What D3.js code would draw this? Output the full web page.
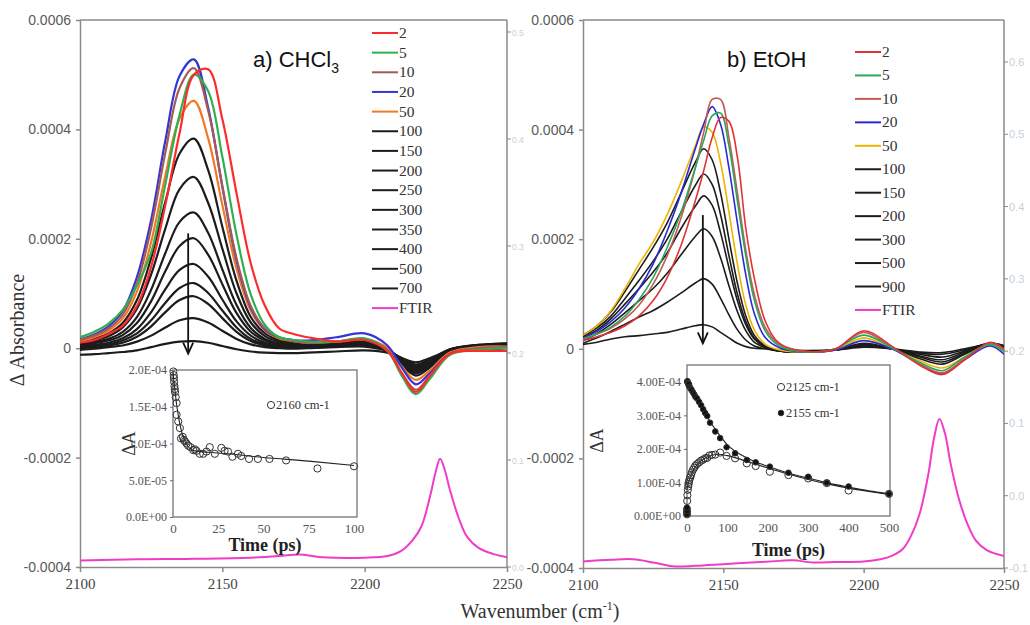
<!DOCTYPE html>
<html><head><meta charset="utf-8">
<script src="https://cdn.jsdelivr.net/npm/d3@7"></script>
<style>
html,body{margin:0;padding:0;background:#fff;overflow:hidden}
svg{display:block}
</style></head><body>
<svg id="chart" width="1030" height="625"></svg>
<script>
// ---------- Data (ΔA in units of 1e-4) ----------
const wnCHCl3 = [2100,2105,2110,2115,2120,2125,2130,2135,2140,2145,2150,2155,2160,2165,2170,2175,2180,2190,2200,2208,2213,2218,2223,2230,2240,2250];
const delaysCHCl3 = ["2","5","10","20","50","100","150","200","250","300","350","400","500","700"];
const spectraCHCl3 = [
  [0.10,0.15,0.26,0.41,0.77,1.49,2.62,3.94,5.00,5.10,4.19,2.83,1.55,0.77,0.36,0.26,0.20,0.12,0.15,-0.05,-0.45,-0.80,-0.50,-0.10,-0.05,-0.05],
  [0.20,0.30,0.45,0.70,1.15,1.75,3.00,4.27,5.00,4.70,3.50,2.07,0.98,0.42,0.20,0.15,0.12,0.12,0.18,-0.05,-0.50,-0.84,-0.55,-0.12,-0.03,0.00],
  [0.15,0.23,0.36,0.61,1.18,2.20,3.58,4.76,5.12,4.35,2.97,1.64,0.77,0.36,0.20,0.13,0.10,0.12,0.16,-0.03,-0.45,-0.76,-0.50,-0.10,0.00,0.02],
  [0.16,0.25,0.40,0.68,1.30,2.35,3.80,4.98,5.28,4.40,2.95,1.60,0.74,0.34,0.20,0.15,0.14,0.20,0.27,0.05,-0.35,-0.66,-0.45,-0.10,-0.02,-0.05],
  [0.12,0.20,0.32,0.54,1.04,1.94,3.16,4.20,4.52,3.84,2.62,1.45,0.68,0.32,0.18,0.13,0.10,0.12,0.17,0.00,-0.33,-0.58,-0.40,-0.08,0.02,0.03],
  [0.10,0.17,0.27,0.46,0.88,1.65,2.68,3.56,3.83,3.26,2.22,1.23,0.57,0.27,0.15,0.10,0.08,0.10,0.12,0.00,-0.30,-0.50,-0.35,-0.05,0.03,0.05],
  [0.08,0.14,0.22,0.38,0.72,1.35,2.19,2.91,3.13,2.66,1.82,1.00,0.47,0.22,0.12,0.08,0.06,0.08,0.10,0.00,-0.27,-0.46,-0.32,-0.04,0.04,0.06],
  [0.06,0.11,0.17,0.30,0.57,1.07,1.74,2.31,2.48,2.11,1.44,0.79,0.37,0.17,0.09,0.06,0.05,0.07,0.08,-0.02,-0.25,-0.43,-0.30,-0.04,0.04,0.06],
  [0.05,0.09,0.14,0.24,0.46,0.86,1.41,1.87,2.01,1.71,1.17,0.64,0.30,0.14,0.07,0.05,0.04,0.06,0.07,-0.02,-0.23,-0.40,-0.28,-0.03,0.05,0.07],
  [0.03,0.06,0.10,0.18,0.35,0.66,1.08,1.43,1.54,1.31,0.89,0.49,0.23,0.10,0.05,0.03,0.03,0.05,0.06,-0.03,-0.22,-0.37,-0.26,-0.03,0.05,0.08],
  [0.02,0.04,0.07,0.14,0.27,0.51,0.83,1.10,1.19,1.01,0.69,0.38,0.17,0.07,0.03,0.02,0.02,0.04,0.05,-0.03,-0.20,-0.34,-0.24,-0.03,0.06,0.08],
  [0.00,0.02,0.05,0.10,0.21,0.40,0.66,0.88,0.95,0.81,0.55,0.30,0.13,0.05,0.02,0.01,0.01,0.03,0.04,-0.04,-0.19,-0.32,-0.22,-0.02,0.06,0.09],
  [-0.03,-0.01,0.02,0.05,0.12,0.23,0.38,0.51,0.55,0.47,0.32,0.17,0.07,0.02,0.00,-0.01,0.00,0.02,0.03,-0.05,-0.18,-0.30,-0.20,-0.02,0.05,0.08],
  [-0.12,-0.11,-0.09,-0.07,-0.04,0.02,0.08,0.12,0.13,0.10,0.04,-0.02,-0.06,-0.08,-0.09,-0.09,-0.08,-0.06,-0.04,-0.08,-0.18,-0.26,-0.18,-0.05,0.02,0.05]
];
const ftirWnCHCl3 = [2100,2120,2140,2160,2170,2177,2185,2200,2208,2213,2217,2220,2223,2225,2226.5,2228,2230,2233,2236,2240,2245,2250];
const ftirCHCl3 = [-3.88,-3.86,-3.85,-3.83,-3.80,-3.77,-3.82,-3.83,-3.80,-3.70,-3.50,-3.25,-2.70,-2.25,-2.02,-2.20,-2.60,-3.10,-3.45,-3.65,-3.76,-3.82];

const wnEtOH = [2100,2105,2110,2115,2120,2125,2130,2135,2140,2143,2146,2149,2152,2155,2158,2161,2165,2170,2180,2190,2200,2210,2220,2228,2236,2245,2250];
const delaysEtOH = ["2","5","10","20","50","100","150","200","300","500","900"];
const spectraEtOH = [
  [0.15,0.22,0.30,0.42,0.60,0.88,1.30,1.90,2.70,3.25,3.85,4.22,4.15,3.50,2.20,1.30,0.50,0.10,-0.05,0.00,0.33,0.05,-0.30,-0.47,-0.20,0.12,0.00],
  [0.18,0.27,0.40,0.60,0.90,1.30,1.85,2.50,3.30,3.80,4.25,4.30,3.70,2.70,1.70,0.90,0.32,0.05,-0.06,0.00,0.25,0.02,-0.25,-0.40,-0.15,0.08,-0.05],
  [0.18,0.27,0.38,0.55,0.80,1.18,1.70,2.40,3.30,3.95,4.55,4.55,3.85,2.85,1.80,1.00,0.38,0.08,-0.05,0.00,0.30,0.03,-0.28,-0.44,-0.18,0.10,-0.02],
  [0.20,0.32,0.50,0.75,1.10,1.55,2.15,2.85,3.65,4.10,4.42,4.10,3.30,2.30,1.35,0.65,0.20,0.02,-0.06,-0.02,0.15,0.00,-0.28,-0.45,-0.20,0.05,-0.10],
  [0.25,0.42,0.70,1.10,1.55,1.95,2.45,3.05,3.70,4.05,3.95,3.40,2.50,1.55,0.80,0.35,0.08,-0.02,-0.06,-0.02,0.20,0.00,-0.22,-0.35,-0.15,0.08,-0.05],
  [0.25,0.42,0.68,1.05,1.45,1.85,2.30,2.85,3.40,3.65,3.45,2.85,2.00,1.20,0.60,0.25,0.05,-0.04,-0.06,-0.02,0.10,0.00,-0.18,-0.28,-0.10,0.10,0.02],
  [0.22,0.38,0.60,0.92,1.25,1.60,2.00,2.50,2.98,3.19,3.00,2.45,1.70,1.00,0.50,0.20,0.04,-0.04,-0.06,-0.02,0.08,0.00,-0.15,-0.24,-0.08,0.10,0.03],
  [0.20,0.34,0.55,0.82,1.10,1.40,1.75,2.20,2.60,2.79,2.62,2.12,1.48,0.88,0.44,0.18,0.03,-0.04,-0.06,-0.02,0.07,0.00,-0.13,-0.20,-0.06,0.10,0.04],
  [0.15,0.28,0.45,0.66,0.88,1.10,1.38,1.72,2.05,2.19,2.05,1.66,1.15,0.68,0.33,0.12,0.02,-0.04,-0.06,-0.02,0.06,0.00,-0.10,-0.15,-0.04,0.10,0.05],
  [0.10,0.20,0.32,0.45,0.58,0.70,0.85,1.02,1.20,1.28,1.18,0.92,0.62,0.35,0.16,0.05,0.00,-0.04,-0.05,-0.02,0.05,0.00,-0.08,-0.10,-0.02,0.10,0.06],
  [0.08,0.12,0.18,0.22,0.24,0.27,0.30,0.36,0.42,0.44,0.40,0.30,0.20,0.10,0.04,0.01,0.00,-0.02,-0.03,-0.02,0.03,0.00,-0.06,-0.07,0.00,0.08,0.05]
];
const ftirWnEtOH = [2100,2110,2118,2125,2132,2140,2150,2160,2170,2175,2182,2190,2200,2206,2210,2214,2217,2220,2223,2225,2227,2229,2231,2234,2237,2240,2244,2250];
const ftirEtOH = [-3.88,-3.85,-3.84,-3.90,-3.97,-3.96,-3.93,-3.90,-3.87,-3.86,-3.90,-3.89,-3.88,-3.84,-3.78,-3.65,-3.40,-3.00,-2.30,-1.65,-1.28,-1.55,-2.10,-2.75,-3.20,-3.50,-3.68,-3.78];

// kinetics: time (ps) and ΔA (1e-4)
const tCHCl3_2160 = [0.2,0.4,0.5,0.6,0.8,1.0,1.1,1.5,2.0,2.0,2.9,3.8,4.4,5.4,6.0,6.6,7.5,8.4,9.7,11.2,12.1,13.0,14.8,16.7,18.5,20.3,23.1,26.7,28.5,30.4,32.8,35.9,37.7,42.0,46.9,53.3,62.5,79.8,100];
const aCHCl3_2160 = [1.98,1.93,1.89,1.84,1.78,1.74,1.70,1.63,1.55,1.39,1.30,1.21,1.07,1.09,1.05,1.03,1.00,0.97,0.95,0.91,0.92,0.90,0.86,0.86,0.89,0.95,0.86,0.94,0.90,0.89,0.82,0.86,0.83,0.79,0.79,0.79,0.77,0.66,0.69];
const tFitCHCl3 = [0,1,2,3,4,5,6,7,8,10,12,15,20,30,50,75,100];
const aFitCHCl3 = [1.97,1.74,1.53,1.37,1.24,1.14,1.07,1.01,0.97,0.92,0.90,0.89,0.88,0.86,0.81,0.76,0.70];

const tEtOH_2125 = [0,0,0,0.5,1,2,3,4,5,6,8,10,12,15,18,21,25,30,35,40,45,50,55,62,70,82,98,119,148,170,205,251,300,346,400,500];
const aEtOH_2125 = [0.05,0.12,0.2,0.45,0.62,0.78,0.88,0.95,1.02,1.08,1.15,1.22,1.3,1.38,1.44,1.5,1.55,1.6,1.65,1.68,1.72,1.73,1.8,1.82,1.83,1.89,1.79,1.72,1.57,1.49,1.32,1.22,1.12,0.98,0.76,0.66];
const tEtOH_2155 = [0,0,0,0.5,1,2,3,4,5,6,8,10,12,15,18,21,25,30,35,40,45,50,57,70,82,98,119,148,170,205,251,300,346,400,500];
const aEtOH_2155 = [0.05,0.15,0.25,4.0,4.02,3.98,3.95,3.9,3.93,3.85,3.82,3.78,3.74,3.68,3.62,3.55,3.5,3.4,3.3,3.18,3.07,2.98,2.78,2.52,2.32,2.05,1.87,1.67,1.6,1.47,1.29,1.17,0.99,0.88,0.66];
const tFit2125 = [0,5,10,20,30,50,75,100,150,200,250,300,350,400,450,500];
const aFit2125 = [0.8,1.05,1.22,1.45,1.6,1.76,1.84,1.8,1.62,1.43,1.25,1.09,0.95,0.83,0.73,0.64];
const tFit2155 = [0,10,25,50,75,100,150,200,250,300,350,400,450,500];
const aFit2155 = [4.0,3.8,3.5,2.95,2.5,2.12,1.72,1.48,1.28,1.13,0.98,0.86,0.75,0.66];

const mainYTicks = [-4,-2,0,2,4,6];
const mainXTicks = [2100,2150,2200,2250];
const arrowCHCl3 = [2138, 2.1, -0.1];
const arrowEtOH = [2142.7, 2.44, 0.1];

// ---------- Styles ----------
const serif = "'Liberation Serif','Times New Roman',serif";
const sans = "'Liberation Sans',Arial,sans-serif";
const colorsCHCl3 = {"2":"#ff2b2b","5":"#2fb050","10":"#a45a55","20":"#3535d6","50":"#f07a24"};
const colorsEtOH = {"2":"#e03434","5":"#2ca65a","10":"#c45a56","20":"#2a2ad0","50":"#efb400"};
const black = "#1c1c1c";
const magenta = "#f03cc8";
const axisGray = "#8a8a8a";

const svg = d3.select("#chart");

function fmtMain(d){ return d === 0 ? "0" : (d*1e-4).toFixed(4); }
function sci(v, digits){
  if (v === 0) return (0).toFixed(digits) + "E+00";
  const e = Math.floor(Math.log10(Math.abs(v)) + 1e-9);
  const m = v / Math.pow(10, e);
  return m.toFixed(digits) + "E" + (e < 0 ? "-" : "+") + String(Math.abs(e)).padStart(2, "0");
}

function drawPanel(cfg){
  const x = d3.scaleLinear().domain([2100,2250]).range([cfg.x0, cfg.x1]);
  const y = d3.scaleLinear().domain([-4,6]).range([cfg.y1, cfg.y0]);
  const g = svg.append("g");

  const clipId = "clip" + cfg.id;
  svg.append("clipPath").attr("id", clipId).append("rect")
    .attr("x", cfg.x0).attr("y", cfg.y0).attr("width", cfg.x1 - cfg.x0).attr("height", cfg.y1 - cfg.y0);

  // secondary (right) axis ticks, faded
  const y2 = d3.scaleLinear().domain(cfg.y2Domain).range([cfg.y1, cfg.y0]);
  const sec = g.append("g");
  cfg.y2Ticks.forEach(v => {
    sec.append("line").attr("x1", cfg.x1).attr("x2", cfg.x1 + 4).attr("y1", y2(v)).attr("y2", y2(v))
      .attr("stroke", axisGray).attr("stroke-width", 1);
    sec.append("text").attr("x", cfg.x1 + cfg.y2Dx).attr("y", y2(v) + 4).text(v.toFixed(1))
      .attr("font-family", sans).attr("font-size", cfg.y2Size).attr("fill", "#c6d0da");
  });

  // axes
  const ya = g.append("g").attr("transform", `translate(${cfg.x0},0)`)
    .call(d3.axisLeft(y).tickValues(mainYTicks).tickFormat(fmtMain).tickSize(4).tickSizeOuter(0));
  ya.selectAll("text").attr("font-family", sans).attr("font-size", 14).attr("fill", "#5a5a5a").attr("dx", -2);
  const xa = g.append("g").attr("transform", `translate(0,${cfg.y1})`)
    .call(d3.axisBottom(x).tickValues(mainXTicks).tickFormat(d3.format("d")).tickSize(5).tickSizeOuter(0));
  xa.selectAll("text").attr("font-family", serif).attr("font-size", 15).attr("fill", "#444").attr("dy", 14);
  [ya, xa].forEach(a => { a.selectAll("path,line").attr("stroke", axisGray).attr("stroke-width", 1.5); });

  // frame top and right
  g.append("line").attr("x1", cfg.x0).attr("x2", cfg.x1).attr("y1", cfg.y0).attr("y2", cfg.y0).attr("stroke", axisGray).attr("stroke-width", 1.5);
  g.append("line").attr("x1", cfg.x1).attr("x2", cfg.x1).attr("y1", cfg.y0).attr("y2", cfg.y1).attr("stroke", axisGray).attr("stroke-width", 1.5);

  const plot = g.append("g").attr("clip-path", `url(#${clipId})`);
  const line = (wn) => d3.line().x((d,i) => x(wn[i])).y(d => y(d)).curve(d3.curveCatmullRom.alpha(0.5));

  // FTIR
  plot.append("path").datum(cfg.ftir).attr("d", line(cfg.ftirWn)).attr("fill", "none")
    .attr("stroke", magenta).attr("stroke-width", 2);

  // spectra: black delays first, coloured early delays on top
  const order = d3.range(cfg.spectra.length).reverse();
  order.forEach(i => {
    const lab = cfg.delays[i];
    plot.append("path").datum(cfg.spectra[i]).attr("d", line(cfg.wn)).attr("fill", "none")
      .attr("stroke", cfg.colors[lab] || black).attr("stroke-width", cfg.lw)
      .attr("stroke-linejoin", "round");
  });

  // arrow
  const [aw, af, at] = cfg.arrow;
  const ax = x(aw), ay0 = y(af), ay1 = y(at);
  g.append("line").attr("x1", ax).attr("x2", ax).attr("y1", ay0).attr("y2", ay1)
    .attr("stroke", "#111").attr("stroke-width", 1.8);
  g.append("path").attr("d", `M${ax-5},${ay1-11} L${ax},${ay1} L${ax+5},${ay1-11}`)
    .attr("fill", "none").attr("stroke", "#111").attr("stroke-width", 1.8);

  // title
  const t = g.append("text").attr("x", cfg.titleX).attr("y", 67).attr("font-family", sans)
    .attr("font-size", 22).attr("fill", "#111");
  cfg.title.forEach(part => {
    const s = t.append("tspan").text(part[0]);
    if (part[1]) s.attr("font-size", 14).attr("dy", 6);
  });

  // legend
  const items = cfg.delays.concat(["FTIR"]);
  items.forEach((lab, i) => {
    const ly = cfg.legY0 + i * cfg.legStep;
    const col = lab === "FTIR" ? magenta : (cfg.colors[lab] || black);
    g.append("line").attr("x1", cfg.legX).attr("x2", cfg.legX + 26).attr("y1", ly).attr("y2", ly)
      .attr("stroke", col).attr("stroke-width", 2);
    g.append("text").attr("x", cfg.legX + 27).attr("y", ly + 5).text(lab)
      .attr("font-family", serif).attr("font-size", 15.5).attr("fill", "#333");
  });
}

drawPanel({id:"L", x0:80, x1:507, y0:20, y1:567, wn:wnCHCl3, delays:delaysCHCl3, spectra:spectraCHCl3,
  ftirWn:ftirWnCHCl3, ftir:ftirCHCl3, colors:colorsCHCl3, lw:2.2, arrow:arrowCHCl3,
  title:[["a) CHCl"],["3", true]], titleX:253, legX:372, legY0:33, legStep:19.65,
  y2Domain:[0,0.5112], y2Ticks:[0,0.1,0.2,0.3,0.4,0.5], y2Dx:5, y2Size:8.5});
drawPanel({id:"R", x0:583, x1:1004, y0:20, y1:568, wn:wnEtOH, delays:delaysEtOH, spectra:spectraEtOH,
  ftirWn:ftirWnEtOH, ftir:ftirEtOH, colors:colorsEtOH, lw:1.6, arrow:arrowEtOH,
  title:[["b) EtOH"]], titleX:727, legX:855, legY0:52, legStep:23.45,
  y2Domain:[-0.1,0.6581], y2Ticks:[-0.1,0,0.1,0.2,0.3,0.4,0.5,0.6], y2Dx:5, y2Size:11});

// ---------- Kinetic insets ----------
function drawInset(cfg){
  const x = d3.scaleLinear().domain([0, cfg.tMax]).range([cfg.x0, cfg.x1]);
  const y = d3.scaleLinear().domain([0, cfg.aMax]).range([cfg.y1, cfg.y0]);
  const g = svg.append("g");
  g.append("rect").attr("x", cfg.x0).attr("y", cfg.y0).attr("width", cfg.fx1 - cfg.x0).attr("height", cfg.y1 - cfg.y0)
    .attr("fill", "#fff").attr("stroke", "#6a6a6a").attr("stroke-width", 1.2);
  const ya = g.append("g").attr("transform", `translate(${cfg.x0},0)`)
    .call(d3.axisLeft(y).tickValues(cfg.yTicks).tickFormat(d => sci(d*1e-4, cfg.digits)).tickSize(3).tickSizeOuter(0));
  ya.select(".domain").remove();
  ya.selectAll("line").attr("stroke", "#6a6a6a");
  ya.selectAll("text").attr("font-family", serif).attr("font-size", 12).attr("fill", "#555");
  const xa = g.append("g").attr("transform", `translate(0,${cfg.y1})`)
    .call(d3.axisBottom(x).tickValues(cfg.xTicks).tickFormat(d3.format("d")).tickSize(0).tickSizeOuter(0));
  xa.select(".domain").remove();
  xa.selectAll("text").attr("font-family", serif).attr("font-size", 13).attr("fill", "#555").attr("dy", 13);

  const line = d3.line().curve(d3.curveMonotoneX);
  cfg.fits.forEach(f => {
    g.append("path").attr("d", line(f[0].map((t,i) => [x(t), y(f[1][i])])))
      .attr("fill", "none").attr("stroke", "#222").attr("stroke-width", 1.1);
  });
  cfg.series.forEach(s => {
    g.append("g").selectAll("circle").data(s.t).join("circle")
      .attr("cx", d => x(d)).attr("cy", (d,i) => y(s.a[i])).attr("r", s.filled ? 2.8 : 3.6)
      .attr("fill", s.filled ? "#111" : "none").attr("stroke", "#333").attr("stroke-width", 1);
  });
  // legend
  cfg.series.forEach((s, i) => {
    const ly = cfg.legY + i * 26;
    g.append("circle").attr("cx", cfg.legX).attr("cy", ly).attr("r", s.filled ? 2.8 : 3.6)
      .attr("fill", s.filled ? "#111" : "none").attr("stroke", "#333").attr("stroke-width", 1);
    g.append("text").attr("x", cfg.legX + 5).attr("y", ly + 4).text(s.label)
      .attr("font-family", serif).attr("font-size", 12.5).attr("fill", "#333");
  });
  // titles
  g.append("text").attr("x", (cfg.x0 + cfg.fx1) / 2).attr("y", cfg.timeY).attr("text-anchor", "middle")
    .text("Time (ps)").attr("font-family", serif).attr("font-size", 18).attr("font-weight", "bold").attr("fill", "#222");
  g.append("text").attr("transform", `translate(${cfg.dAX},${(cfg.y0 + cfg.y1) / 2}) rotate(-90)`)
    .attr("text-anchor", "middle").text("ΔA").attr("font-family", serif).attr("font-size", 18).attr("fill", "#333");
}

drawInset({x0:173, x1:354, fx1:357, y0:370, y1:517, tMax:100, aMax:2.0, yTicks:[0,0.5,1,1.5,2], digits:1,
  xTicks:[0,25,50,75,100],
  series:[{t:tCHCl3_2160, a:aCHCl3_2160, filled:false, label:"2160 cm-1"}],
  fits:[[tFitCHCl3, aFitCHCl3]], legX:271, legY:405, timeY:551, dAX:135});
drawInset({x0:687, x1:889, fx1:890, y0:365, y1:516, tMax:500, aMax:4.5, yTicks:[0,1,2,3,4], digits:2,
  xTicks:[0,100,200,300,400,500],
  series:[{t:tEtOH_2125, a:aEtOH_2125, filled:false, label:"2125 cm-1"},
          {t:tEtOH_2155, a:aEtOH_2155, filled:true, label:"2155 cm-1"}],
  fits:[[tFit2125, aFit2125],[tFit2155, aFit2155]], legX:781, legY:387, timeY:556, dAX:603});

// ---------- Shared axis titles ----------
svg.append("text").attr("transform", "translate(24,330) rotate(-90)").attr("text-anchor", "middle")
  .text("Δ Absorbance").attr("font-family", serif).attr("font-size", 20).attr("fill", "#333");
const xt = svg.append("text").attr("x", 540).attr("y", 618).attr("text-anchor", "middle")
  .attr("font-family", serif).attr("font-size", 20).attr("fill", "#333");
xt.append("tspan").text("Wavenumber (cm");
xt.append("tspan").text("-1").attr("font-size", 12).attr("dy", -8);
xt.append("tspan").text(")").attr("dy", 8);
</script></body></html>
